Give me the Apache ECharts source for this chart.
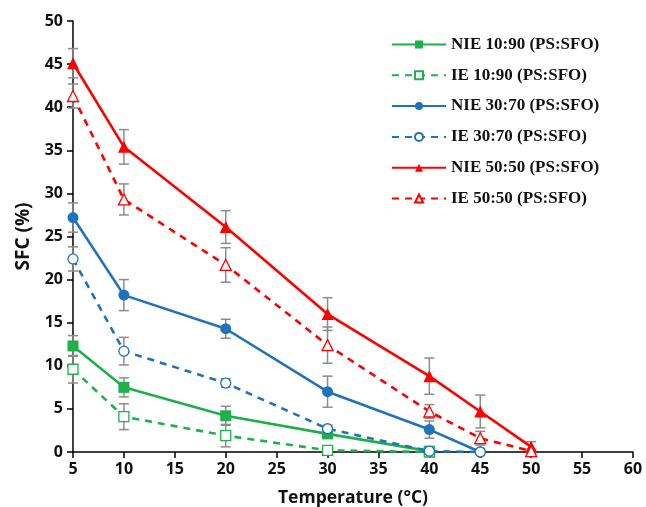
<!DOCTYPE html>
<html>
<head>
<meta charset="utf-8">
<script src="https://cdn.jsdelivr.net/npm/echarts@6/dist/echarts.min.js"></script>
<style>
  html, body { margin: 0; padding: 0; background: #fff; }
</style>
</head>
<body>
<div id="chart" style="width: 646px; height: 507px;"></div>
<script>
// data
const xTicks = [5, 10, 15, 20, 25, 30, 35, 40, 45, 50, 55, 60]
const yTicks = [0, 5, 10, 15, 20, 25, 30, 35, 40, 45, 50]

const temp10 = [5, 10, 20, 30, 40]
const temp30 = [5, 10, 20, 30, 40, 45]
const temp50 = [5, 10, 20, 30, 40, 45, 50]

const nie1090 = [12.3, 7.5, 4.2, 2.1, 0.1]
const nie1090Err = [1.2, 1.1, 1.1, 0.3, 0.2]
const ie1090 = [9.6, 4.1, 1.9, 0.2, 0.0]
const ie1090Err = [1.6, 1.5, 1.3, 0.2, 0.1]

const nie3070 = [27.2, 18.2, 14.3, 7.0, 2.6, 0.0]
const nie3070Err = [1.7, 1.8, 1.1, 1.8, 1.0, 0.1]
const ie3070 = [22.4, 11.7, 8.0, 2.7, 0.1, 0.0]
const ie3070Err = [1.4, 1.6, 0.5, 0.4, 0.2, 0.1]

const nie5050 = [45.1, 35.4, 26.1, 16.0, 8.8, 4.7, 0.6]
const nie5050Err = [1.7, 2.0, 1.9, 1.9, 2.1, 1.9, 0.6]
const ie5050 = [41.3, 29.3, 21.7, 12.4, 4.7, 1.6, 0.1]
const ie5050Err = [1.4, 1.8, 2.0, 2.1, 0.8, 0.8, 0.2]

const names = ['NIE 10:90 (PS:SFO)', 'IE 10:90 (PS:SFO)', 'NIE 30:70 (PS:SFO)',
  'IE 30:70 (PS:SFO)', 'NIE 50:50 (PS:SFO)', 'IE 50:50 (PS:SFO)']

const green = '#1fb04c'
const blue = '#1f72be'
const red = '#ff0000'

function pairs (xs, ys) {
  return xs.map((x, i) => [x, ys[i]])
}

function errPairs (xs, ys, es) {
  return xs.map((x, i) => [x, ys[i] - es[i], ys[i] + es[i]])
}

// gray error bars with caps
function errorBars (xs, ys, es) {
  return {
    type: 'custom',
    silent: true,
    z: 1,
    data: errPairs(xs, ys, es),
    encode: { x: 0, y: [1, 2] },
    renderItem: function (params, api) {
      let lo = api.coord([api.value(0), api.value(1)])
      let hi = api.coord([api.value(0), api.value(2)])
      let w = 5
      let style = { stroke: '#8c8c8c', lineWidth: 1.5 }
      return {
        type: 'group',
        children: [
          { type: 'line', shape: { x1: lo[0], y1: lo[1], x2: hi[0], y2: hi[1] }, style: style },
          { type: 'line', shape: { x1: lo[0] - w, y1: lo[1], x2: lo[0] + w, y2: lo[1] }, style: style },
          { type: 'line', shape: { x1: hi[0] - w, y1: hi[1], x2: hi[0] + w, y2: hi[1] }, style: style }
        ]
      }
    }
  }
}

function lineSeries (name, xs, ys, color, symbol, hollow) {
  let size = symbol === 'triangle' ? 12 : 11
  return {
    name: name,
    type: 'line',
    z: 3,
    data: pairs(xs, ys),
    symbol: symbol,
    symbolSize: hollow ? size - 1 : size,
    showAllSymbol: true,
    lineStyle: {
      color: color,
      width: 2.6,
      type: hollow ? [7, 6] : 'solid'
    },
    itemStyle: {
      color: hollow ? '#fff' : color,
      borderColor: color,
      borderWidth: hollow ? 1.3 : 0
    }
  }
}

let myChart = echarts.init(document.getElementById('chart'))

const axisFont = {
  fontFamily: 'Open Sans',
  fontWeight: 'bold',
  fontSize: 16,
  color: '#111'
}

myChart.setOption({
  animation: false,
  backgroundColor: '#fff',
  grid: { left: 73, right: 13, top: 21, bottom: 55, outerBoundsMode: 'none' },
  legend: {
    orient: 'vertical',
    left: 386,
    top: 31,
    itemWidth: 54,
    itemHeight: 10,
    itemGap: 13.8,
    data: names,
    textStyle: {
      fontFamily: 'Liberation Serif',
      fontWeight: 'bold',
      fontSize: 17,
      color: '#111',
      padding: [0, 0, 0, 0]
    }
  },
  xAxis: {
    type: 'value',
    min: 5,
    max: 60,
    interval: 5,
    name: 'Temperature (°C)',
    nameLocation: 'middle',
    nameGap: 37,
    nameTextStyle: { fontFamily: 'Open Sans', fontWeight: 'bold', fontSize: 17.5, color: '#111' },
    axisLine: { onZero: false, lineStyle: { color: '#000', width: 1.5 } },
    axisTick: { show: true, length: 6, lineStyle: { color: '#000', width: 1.5 } },
    axisLabel: Object.assign({ margin: 9 }, axisFont),
    splitLine: { show: false }
  },
  yAxis: {
    type: 'value',
    min: 0,
    max: 50,
    interval: 5,
    name: 'SFC (%)',
    nameLocation: 'middle',
    nameGap: 40,
    nameTextStyle: { fontFamily: 'Open Sans', fontWeight: 'bold', fontSize: 19, color: '#111' },
    axisLine: { show: true, lineStyle: { color: '#000', width: 1.5 } },
    axisTick: { show: true, length: 6, lineStyle: { color: '#000', width: 1.5 } },
    axisLabel: Object.assign({ margin: 10 }, axisFont),
    splitLine: { show: false }
  },
  series: [
    errorBars(temp10, nie1090, nie1090Err),
    errorBars(temp10, ie1090, ie1090Err),
    errorBars(temp30, nie3070, nie3070Err),
    errorBars(temp30, ie3070, ie3070Err),
    errorBars(temp50, nie5050, nie5050Err),
    errorBars(temp50, ie5050, ie5050Err),
    lineSeries(names[0], temp10, nie1090, green, 'rect', false),
    lineSeries(names[1], temp10, ie1090, green, 'rect', true),
    lineSeries(names[2], temp30, nie3070, blue, 'circle', false),
    lineSeries(names[3], temp30, ie3070, blue, 'circle', true),
    lineSeries(names[4], temp50, nie5050, red, 'triangle', false),
    lineSeries(names[5], temp50, ie5050, red, 'triangle', true)
  ]
})
</script>
</body>
</html>
